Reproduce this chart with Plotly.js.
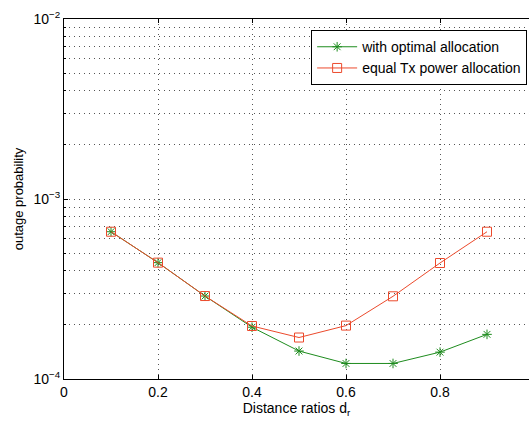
<!DOCTYPE html>
<html><head><meta charset="utf-8">
<script src="https://cdn.plot.ly/plotly-3.0.1.min.js"></script>
<style>html,body{margin:0;padding:0;background:#fff}#chart{width:529px;height:421px}</style>
</head><body><div id="chart"></div>
<script>
const distanceRatios = [0.1, 0.2, 0.3, 0.4, 0.5, 0.6, 0.7, 0.8, 0.9];
const optimalAllocation = [6.58e-4, 4.43e-4, 2.89e-4, 1.94e-4, 1.43e-4, 1.22e-4, 1.22e-4, 1.41e-4, 1.77e-4];
const equalAllocation = [6.58e-4, 4.43e-4, 2.89e-4, 1.97e-4, 1.70e-4, 1.98e-4, 2.88e-4, 4.41e-4, 6.58e-4];
const seriesNames = ['with optimal allocation', 'equal Tx power allocation'];
const xTicks = [0, 0.2, 0.4, 0.6, 0.8];
const xTickLabels = ['0', '0.2', '0.4', '0.6', '0.8'];
const yTicks = [1e-4, 1e-3, 1e-2];
const yTickLabels = ['10<sup>−4</sup>', '10<sup>−3</sup>', '10<sup>−2</sup>'];
const yMinor = [2e-4,3e-4,4e-4,5e-4,6e-4,7e-4,8e-4,9e-4,2e-3,3e-3,4e-3,5e-3,6e-3,7e-3,8e-3,9e-3];

const green = '#1e8c1e', red = '#ec4a2c';
const fam = 'Liberation Sans, Arial, sans-serif';
const font = {family: fam, size: 14, color: '#000'};
const dots = '1px,4px';

const traces = [
  {x: distanceRatios, y: optimalAllocation, name: seriesNames[0], type: 'scatter', mode: 'lines+markers',
   line: {color: green, width: 1}, marker: {symbol: 'asterisk-open', size: 8, color: green, line: {color: green, width: 1}}},
  {x: distanceRatios, y: equalAllocation, name: seriesNames[1], type: 'scatter', mode: 'lines+markers',
   line: {color: red, width: 1}, marker: {symbol: 'square-open', size: 9, color: red, line: {color: red, width: 1}}}
];

const layout = {
  width: 529, height: 421,
  margin: {l: 64, r: 0, t: 19, b: 42},
  paper_bgcolor: '#fff', plot_bgcolor: '#fff',
  font: font,
  showlegend: true,
  legend: {x: 0.996, y: 0.969, xanchor: 'right', yanchor: 'top', bgcolor: '#fff',
           bordercolor: '#000', borderwidth: 1, font: {family: fam, size: 14, color: '#000'},
           tracegroupgap: 0, itemwidth: 40},
  xaxis: {
    range: [0, 465/470], tickmode: 'array', tickvals: xTicks, ticktext: xTickLabels,
    showline: true, linecolor: '#000', linewidth: 1, mirror: 'ticks',
    ticks: 'inside', ticklen: 4, tickcolor: '#000',
    showgrid: true, gridcolor: '#555', griddash: dots, gridwidth: 1,
    zeroline: false, tickfont: {family: fam, size: 14, color: '#000'},
    title: {text: 'Distance ratios d<sub>r</sub>', font: {family: fam, size: 14, color: '#000'}, standoff: 2}
  },
  yaxis: {
    type: 'log', range: [-4, -2], tickmode: 'array', tickvals: yTicks, ticktext: yTickLabels,
    showline: true, linecolor: '#000', linewidth: 1,
    ticks: 'inside', ticklen: 4, tickcolor: '#000',
    showgrid: true, gridcolor: '#555', griddash: dots, gridwidth: 1,
    minor: {tickmode: 'array', tickvals: yMinor, ticks: 'inside', ticklen: 2, tickcolor: '#000',
            showgrid: true, gridcolor: '#555', griddash: dots, gridwidth: 1},
    zeroline: false, tickfont: {family: fam, size: 14, color: '#000'},
    title: {text: 'outage probability', font: {family: fam, size: 13, color: '#000'}, standoff: 6}
  }
};

Plotly.newPlot('chart', traces, layout, {displayModeBar: false, staticPlot: true});
</script></body></html>
